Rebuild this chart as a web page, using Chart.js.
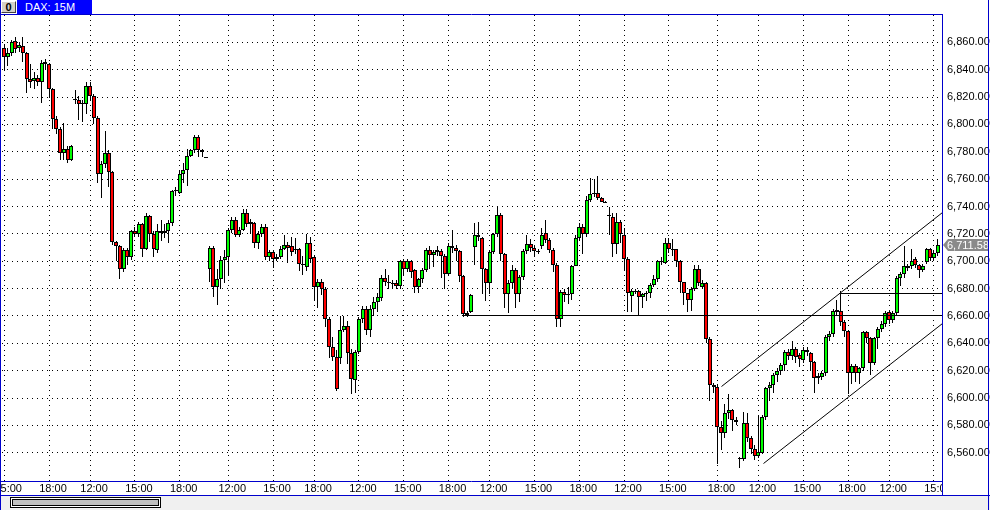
<!DOCTYPE html>
<html>
<head>
<meta charset="utf-8">
<script src="https://cdn.jsdelivr.net/npm/chart.js@4"></script>
<style>
  body { margin: 0; background: #fff; }
  #wrap { position: relative; width: 990px; height: 510px; overflow: hidden; background: #fff; font-family: 'Liberation Sans', Arial, sans-serif; }
  #c { position: absolute; left: 0; top: 0; }
  #icon { position: absolute; left: 1px; top: 1px; width: 13px; height: 10px; background: #d4d0c8; border: 1px solid; border-color: #fff #404040 #404040 #fff; font: bold 11px 'Liberation Sans', Arial, sans-serif; line-height: 10px; text-align: center; color: #000; }
  #title { position: absolute; left: 17px; top: 0; width: 75px; height: 14px; background: #0000ff; color: #fff; font-size: 11px; line-height: 14px; padding-left: 8px; box-sizing: border-box; }
  #scroll { position: absolute; left: 0; top: 496px; width: 990px; height: 14px; background: #f0f0f0; }
  #thumb { position: absolute; left: 10px; top: 1px; width: 149px; height: 9px; border: 1px solid #000; background: #fff; }
  #thumb div { position: absolute; left: 1px; top: 1px; right: 1px; bottom: 1px; border: 1px solid #000; background: #c0c0c0; }
  .vline { position: absolute; top: 0; width: 1px; height: 510px; background: #0000cc; }
</style>
</head>
<body>
<div id="wrap">
  <canvas id="c" width="990" height="496"></canvas>
  <div id="icon">0</div>
  <div id="title">DAX: 15M</div>
  <div id="scroll"><div id="thumb"><div></div></div></div>
  <div class="vline" style="left:0"></div>
  <div class="vline" style="left:988px"></div>
</div>
<script>
// DAX 15 minute candles
const open = [
  6856, 6849, 6852, 6861, 6856, 6857, 6852, 6833, 6832, 6834,
  6831, 6846, 6844, 6826, 6804, 6797, 6779, 6782, 6774, 6818,
  6818, 6815, 6815, 6828, 6821, 6805, 6764, 6771, 6779, 6765,
  6714, 6711, 6694, 6708, 6703, 6722, 6720, 6727, 6709, 6733,
  6720, 6708, 6722, 6721, 6722, 6728, 6751, 6750, 6764, 6767,
  6777, 6781, 6791, 6781, 6776, 6694, 6710, 6681, 6687, 6701,
  6703, 6723, 6730, 6719, 6723, 6735, 6729, 6728, 6713, 6720,
  6725, 6703, 6707, 6702, 6703, 6709, 6712, 6711, 6708, 6709,
  6698, 6696, 6713, 6703, 6681, 6685, 6680, 6658, 6637, 6630,
  6629, 6650, 6653, 6633, 6613, 6634, 6658, 6665, 6650, 6665,
  6670, 6673, 6688, 6685, 6684.2, 6684, 6682, 6700, 6694.7, 6700,
  6693.5, 6681, 6686.7, 6693.5, 6708, 6704.4, 6706.6, 6707.3, 6704, 6691,
  6711.5, 6710, 6707.3, 6689.6, 6661, 6663, 6710.5, 6719.5, 6717, 6694,
  6684, 6707, 6720, 6734, 6705, 6676, 6684, 6693.5, 6676, 6688.6,
  6707.3, 6712.4, 6710, 6707.5, 6711, 6721, 6715.4, 6708, 6697.6, 6657.5,
  6677.6, 6676, 6676, 6696.4, 6717.3, 6725, 6719.7, 6745, 6749, 6750,
  6746.5, 6743.5, 6733, 6732, 6712.5, 6728.7, 6719, 6702, 6674.5, 6678.4,
  6678, 6674, 6676, 6676.5, 6683, 6687.4, 6699.5, 6699, 6713.7, 6708.8,
  6708.8, 6700.3, 6684.5, 6676.5, 6671.6, 6680, 6694, 6681, 6684.2, 6643,
  6609.6, 6608.4, 6578.7, 6574.4, 6589, 6591, 6584, 6556, 6555.4, 6581.7,
  6570.7, 6562.7, 6557.5, 6560, 6586.5, 6607.2, 6609.6, 6616.6, 6620, 6624.2,
  6634, 6630.5, 6636, 6631.5, 6627.8, 6635, 6633.2, 6626.6, 6614.5, 6615.7,
  6618.1, 6644.4, 6646.6, 6664.3, 6663.8, 6655.8, 6649.2, 6618.1, 6623.5, 6618.6,
  6621.8, 6648, 6643.6, 6625.9, 6643.6, 6650.2, 6653.9, 6662.6, 6657, 6662,
  6687.9, 6690.6, 6695.4, 6696.4, 6701.3, 6697, 6693.5, 6699.6, 6709.3, 6702.7,
  6706.1
];
const high = [
  6859, 6856, 6862, 6864, 6860, 6864, 6853, 6844, 6838, 6836,
  6847, 6848, 6845, 6827, 6806, 6798, 6801, 6784, 6785, 6825,
  6821, 6818, 6831, 6831, 6822, 6806, 6773, 6795, 6781, 6766,
  6715, 6712, 6710, 6710, 6723, 6725, 6729, 6728, 6735, 6734,
  6722, 6727, 6730, 6727, 6730, 6752, 6754, 6766, 6772, 6782,
  6782, 6792, 6792, 6782, 6776, 6711, 6711, 6694, 6704, 6708,
  6724, 6732, 6732, 6725, 6738, 6738, 6731, 6729, 6722, 6727,
  6727, 6708, 6708, 6705, 6711, 6719, 6714, 6718, 6717, 6710,
  6704, 6720, 6718, 6704, 6687, 6687, 6681, 6659, 6645, 6635,
  6660, 6660, 6656, 6636, 6635, 6659, 6667, 6667, 6668, 6674,
  6677, 6690, 6694, 6690, 6686, 6686, 6701, 6702, 6702, 6701,
  6694, 6688, 6695, 6710, 6711, 6708, 6711, 6709, 6705, 6713,
  6723, 6712, 6708, 6690, 6664, 6676, 6728, 6729, 6718, 6695,
  6708, 6721, 6740, 6735, 6706, 6686, 6697, 6695, 6690, 6709,
  6719, 6716, 6712, 6709, 6724, 6730, 6717, 6710, 6699, 6679,
  6680, 6681, 6697, 6719, 6728, 6727, 6748, 6761, 6760, 6762,
  6747, 6744, 6740, 6735, 6735, 6730, 6724, 6703, 6680, 6680,
  6679, 6677, 6678, 6684, 6690, 6701, 6703, 6717, 6717, 6716,
  6709, 6701, 6685, 6677, 6681, 6697, 6697, 6686, 6685, 6645,
  6611, 6610, 6583, 6596, 6603, 6592, 6586, 6557, 6590, 6589,
  6572, 6566, 6588, 6588, 6608, 6612, 6618, 6622, 6626, 6635,
  6636, 6642, 6637, 6633, 6637, 6637, 6634, 6627, 6618, 6620,
  6646, 6649, 6665, 6672, 6678, 6657, 6650, 6625, 6625, 6623,
  6649, 6649, 6645, 6645, 6652, 6656, 6664, 6664, 6664, 6689,
  6692, 6711, 6698, 6709, 6703, 6698, 6698, 6710, 6710, 6708,
  6716
];
const low = [
  6840, 6843, 6850, 6852, 6853, 6846, 6823, 6827, 6826, 6828,
  6816, 6840, 6819, 6797, 6793, 6774, 6774, 6772, 6773, 6815,
  6803, 6802, 6808, 6818, 6800, 6757, 6746, 6768, 6754, 6712,
  6700, 6687, 6692, 6697, 6701, 6718, 6718, 6703, 6708, 6714,
  6703, 6706, 6715, 6717, 6713, 6726, 6748, 6749, 6757, 6755,
  6776, 6779, 6776, 6776, 6776, 6685, 6674, 6668, 6680, 6684,
  6690, 6721, 6718, 6718, 6722, 6725, 6720, 6710, 6709, 6718,
  6701, 6700, 6695, 6700, 6702, 6708, 6699, 6704, 6705, 6693,
  6690, 6693, 6699, 6672, 6666, 6675, 6652, 6629, 6627, 6605,
  6625, 6648, 6625, 6603, 6604, 6632, 6655, 6646, 6645, 6660,
  6663, 6671, 6682, 6680, 6680, 6680, 6680, 6690, 6692, 6688,
  6677, 6677, 6684, 6692, 6694, 6696, 6704, 6688, 6680, 6690,
  6706, 6700, 6685, 6659.5, 6659, 6662, 6697, 6715, 6676, 6671,
  6676, 6705, 6718, 6700, 6666, 6662, 6680, 6666, 6670, 6686,
  6705, 6707, 6703, 6705, 6709, 6713, 6706, 6692, 6652, 6652,
  6670, 6669, 6672, 6700, 6715, 6705, 6718, 6743, 6747, 6745,
  6743, 6743, 6719, 6703, 6705, 6713, 6693, 6663, 6663, 6676,
  6660, 6666, 6671, 6673, 6681, 6685, 6697, 6698, 6706, 6704,
  6696, 6677, 6668, 6663, 6664, 6678, 6682, 6680, 6640, 6598,
  6604, 6552, 6562, 6571, 6585, 6576, 6580, 6549, 6554, 6568,
  6559, 6555, 6556, 6559, 6584, 6598, 6604, 6612, 6617, 6620,
  6628, 6628, 6626, 6623, 6626, 6631, 6620, 6604, 6610, 6613,
  6616, 6642, 6645, 6660, 6653, 6645, 6603, 6610, 6612, 6610,
  6620, 6640, 6617, 6624, 6636, 6648, 6652, 6654, 6655, 6660,
  6682, 6688, 6693, 6694, 6695, 6688, 6692, 6698, 6700, 6700,
  6704
];
const close = [
  6849, 6852, 6860, 6855, 6858, 6852, 6833, 6831, 6834, 6831,
  6845, 6844, 6826, 6804, 6797, 6779, 6782, 6774, 6784, 6818.5,
  6815, 6816, 6828, 6821, 6805, 6764, 6771, 6779, 6765, 6714,
  6711, 6694, 6708, 6703, 6722, 6720, 6727, 6709, 6733, 6720,
  6709, 6722, 6721, 6722, 6728, 6751, 6752, 6764, 6767, 6777,
  6781, 6791, 6781, 6780, 6776, 6710, 6681, 6687, 6701, 6703,
  6723, 6730, 6719, 6723, 6735, 6727, 6727, 6713, 6720, 6725,
  6703, 6707, 6702, 6703, 6709, 6712, 6710, 6707, 6709, 6698,
  6697, 6713, 6702, 6681, 6685, 6680, 6658, 6637, 6630, 6607,
  6650, 6653, 6633, 6614, 6634, 6658, 6665, 6650, 6665, 6670,
  6674, 6688, 6685, 6684.5, 6684.4, 6682, 6700, 6694.7, 6700, 6692,
  6681, 6686.7, 6693.5, 6708, 6704.4, 6706.6, 6708, 6704, 6691, 6711.5,
  6710, 6707.3, 6689.6, 6661.2, 6662.5, 6675, 6719, 6717.5, 6694, 6684,
  6707, 6720, 6734, 6705, 6676, 6684, 6693.5, 6676, 6688.6, 6707.3,
  6712.4, 6710, 6707.3, 6707.8, 6719.5, 6715.4, 6708, 6697.6, 6657.5, 6677.6,
  6675.5, 6676.3, 6696.4, 6717.3, 6725, 6719.7, 6745, 6749, 6750, 6746.5,
  6743.5, 6743.3, 6733.5, 6712.5, 6728.7, 6719.7, 6702, 6676.5, 6678.4, 6678.6,
  6674, 6676, 6676.5, 6683, 6687.4, 6700, 6700.5, 6713.7, 6708.8, 6708.3,
  6700.3, 6684.5, 6676.5, 6671.6, 6680, 6694, 6683.8, 6683.8, 6643, 6609.6,
  6608.4, 6578.7, 6574.4, 6589, 6591.4, 6584, 6582.5, 6556.3, 6581.7, 6570.8,
  6562.7, 6557.5, 6560.3, 6586, 6607.2, 6609.6, 6616.6, 6620, 6624.2, 6633.4,
  6630.5, 6636, 6630.3, 6628.3, 6635.1, 6634, 6626.6, 6614.5, 6616.2, 6618.1,
  6644.4, 6646.6, 6663.6, 6663.1, 6655.8, 6649.2, 6618.1, 6623.5, 6618.6, 6621.8,
  6648, 6643.6, 6625.9, 6643.6, 6650.2, 6653.9, 6661.9, 6657, 6661.9, 6687.9,
  6690.6, 6696.4, 6696.4, 6700.3, 6697, 6693.5, 6696.4, 6709.3, 6702.7, 6706.1,
  6711.58
];

// axis ticks
const priceTicks = [6560, 6580, 6600, 6620, 6640, 6660, 6680, 6700, 6720, 6740, 6760, 6780, 6800, 6820, 6840, 6860];
const timeTickAt = [0, 12, 23, 35, 47, 60, 72, 83, 95, 107, 119, 130, 142, 154, 166, 178, 191, 202, 214, 226, 237, 249];
const timeTickText = ['15:00', '18:00', '12:00', '15:00', '18:00', '12:00', '15:00', '18:00', '12:00', '15:00', '18:00',
  '12:00', '15:00', '18:00', '12:00', '15:00', '18:00', '12:00', '15:00', '18:00', '12:00', '15:00'];

// drawn lines: horizontal levels and the rising channel (bar index, price)
const levelPrice = [6660, 6676.5];
const levelFromBar = [122.7, 223.8];
const channelFromBar = [192.2, 203.3];
const channelFromPrice = [6608.4, 6552];
const channelToPrice = [6736, 6654.8];

const xMin = -0.59, xMax = 251.15;
const yMin = 6539.4, yMax = 6880;
const lastPrice = close[close.length - 1];

const frameBlue = '#0000cc';
const fmt = v => v.toLocaleString('en-US', { minimumFractionDigits: 2, maximumFractionDigits: 2 });

const bodies = open.map((o, i) => ({ x: i, y: [o, close[i]] }));
const wicks = open.map((o, i) => ({ x: i, y: [low[i], high[i]] }));
const bodyColors = open.map((o, i) => close[i] >= o ? '#00ff00' : '#ff0000');

const lineStyle = { type: 'line', borderColor: '#000', borderWidth: 1, pointRadius: 0, fill: false, order: 0 };
const lineSets = [];
levelPrice.forEach((p, k) => {
  lineSets.push(Object.assign({ data: [{ x: levelFromBar[k], y: p }, { x: xMax, y: p }] }, lineStyle));
});
channelFromBar.forEach((b, k) => {
  lineSets.push(Object.assign({ data: [{ x: b, y: channelFromPrice[k] }, { x: xMax, y: channelToPrice[k] }] }, lineStyle));
});

// keep candles and drawn lines on whole pixels like the original
const snap = {
  id: 'snap',
  afterDatasetsUpdate(chart) {
    chart.data.datasets.forEach((ds, d) => {
      const meta = chart.getDatasetMeta(d);
      meta.data.forEach(el => {
        if (d === 0) {
          el.x = Math.round(el.x);
        } else if (d === 1) {
          el.x = Math.floor(el.x) + 0.5;
        } else {
          el.x = Math.floor(el.x) + 0.5;
          el.y = Math.floor(el.y) + 0.5;
          return;
        }
        el.y = Math.round(el.y);
        el.base = Math.round(el.base);
        if (Math.abs(el.base - el.y) < 1) el.base = el.y + 1;
      });
    });
  }
};

const frame = {
  id: 'frame',
  afterDraw(chart) {
    const { ctx, chartArea: a } = chart;
    ctx.save();
    // the time labels are cut at the right edge of the plot
    ctx.fillStyle = '#fff';
    ctx.fillRect(a.right + 1, a.bottom + 1, chart.width - a.right - 1, chart.height - a.bottom - 1);

    ctx.strokeStyle = frameBlue;
    ctx.lineWidth = 1;
    ctx.beginPath();
    ctx.moveTo(0, a.top - 0.5); ctx.lineTo(a.right + 1, a.top - 0.5);
    ctx.moveTo(a.right + 0.5, a.top - 1); ctx.lineTo(a.right + 0.5, chart.height);
    ctx.moveTo(0, a.bottom + 0.5); ctx.lineTo(a.right + 1, a.bottom + 0.5);
    ctx.moveTo(0, chart.height - 0.5); ctx.lineTo(chart.width, chart.height - 0.5);
    ctx.stroke();

    // last price marker on the price axis
    const y = Math.round(chart.scales.y.getPixelForValue(lastPrice));
    ctx.fillStyle = '#8a8a8a';
    ctx.beginPath();
    ctx.moveTo(a.right + 1, y);
    ctx.lineTo(a.right + 6, y - 6);
    ctx.lineTo(988, y - 6);
    ctx.lineTo(988, y + 6);
    ctx.lineTo(a.right + 6, y + 6);
    ctx.closePath();
    ctx.fill();
    ctx.fillStyle = '#ffffff';
    ctx.font = "11px 'Liberation Sans', Arial, sans-serif";
    ctx.textBaseline = 'middle';
    ctx.fillText(fmt(lastPrice), a.right + 5, y + 0.5);
    ctx.restore();
  }
};

const tickFont = { family: "'Liberation Sans', Arial, sans-serif", size: 11 };

new Chart(document.getElementById('c'), {
  type: 'bar',
  data: {
    datasets: [
      { data: bodies, backgroundColor: bodyColors, borderColor: '#000', borderWidth: 1, borderSkipped: false,
        barThickness: 4, grouped: false, inflateAmount: 0, order: 1 },
      { data: wicks, backgroundColor: '#000', borderWidth: 0, barThickness: 1, grouped: false, inflateAmount: 0, order: 2 },
      ...lineSets
    ]
  },
  options: {
    responsive: false,
    animation: false,
    events: [],
    layout: { padding: { top: 15, left: 2, right: 0, bottom: 0 } },
    plugins: { legend: { display: false }, tooltip: { enabled: false } },
    scales: {
      x: {
        type: 'linear', min: xMin, max: xMax, offset: false,
        grid: { color: '#000', lineWidth: 1, drawTicks: false, offset: false },
        border: { display: false, dash: [1, 4] },
        afterBuildTicks: s => { s.ticks = timeTickAt.map(v => ({ value: v })); },
        afterFit: s => { s.height = 15; s.paddingLeft = 0; s.paddingRight = 0; },
        ticks: {
          autoSkip: false, maxRotation: 0, padding: 1, labelOffset: 4, color: '#000', font: tickFont,
          callback: v => timeTickText[timeTickAt.indexOf(v)]
        }
      },
      y: {
        position: 'right', min: yMin, max: yMax, beginAtZero: false,
        grid: { color: '#000', lineWidth: 1, drawTicks: false },
        border: { display: false, dash: [1, 4] },
        afterBuildTicks: s => { s.ticks = priceTicks.map(v => ({ value: v })); },
        afterFit: s => { s.width = 48; s.paddingTop = 0; s.paddingBottom = 0; },
        ticks: { padding: 5, color: '#000', font: tickFont, callback: v => fmt(v) }
      }
    }
  },
  plugins: [snap, frame]
});
</script>
</body>
</html>
